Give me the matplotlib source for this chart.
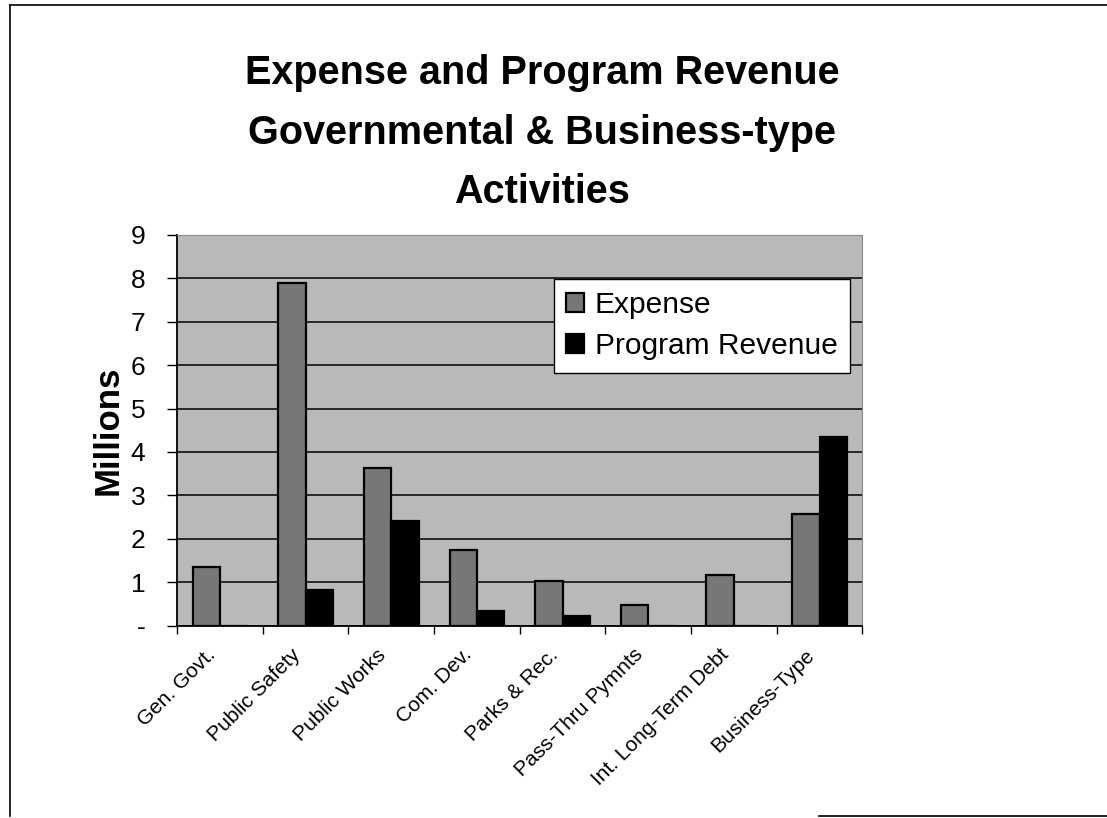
import numpy as np
import matplotlib
matplotlib.use("Agg")
import matplotlib.pyplot as plt
from matplotlib.lines import Line2D

# chart data
categories = ["Gen. Govt.", "Public Safety", "Public Works", "Com. Dev.",
              "Parks & Rec.", "Pass-Thru Pymnts", "Int. Long-Term Debt", "Business-Type"]
expense = [1.35, 7.9, 3.62, 1.74, 1.02, 0.47, 1.18, 2.58]
program_revenue = [0, 0.83, 2.41, 0.35, 0.23, 0, 0, 4.34]
y_ticks = [0, 1, 2, 3, 4, 5, 6, 7, 8, 9]
y_tick_labels = ["-", "1", "2", "3", "4", "5", "6", "7", "8", "9"]

plt.rcParams['font.family'] = ['Liberation Sans', 'DejaVu Sans']

fig = plt.figure(figsize=(11.07, 8.18), dpi=100)
ax = fig.add_axes([0.16, 0.235, 0.619, 0.478])

x = np.arange(len(categories))
w = 0.32
ax.set_facecolor('#b9b9b9')
ax.bar(x - w / 2, expense, w, color='#777777', edgecolor='black', linewidth=1.6,
       label='Expense', zorder=3)
ax.bar(x + w / 2, program_revenue, w, color='black', edgecolor='black', linewidth=1.6,
       label='Program Revenue', zorder=3)

ax.set_xlim(-0.5, len(categories) - 0.5)
ax.set_ylim(0, 9)
ax.set_yticks(y_ticks)
ax.set_yticklabels(y_tick_labels, fontsize=19)
ax.yaxis.grid(True, color='black', linewidth=1.1, zorder=1)
ax.set_axisbelow(True)

# category ticks sit between groups; rotated labels end just left of the centres
ax.set_xticks(np.arange(len(categories) + 1) - 0.5)
ax.set_xticklabels([])
ax.set_xticks(x - 0.17, minor=True)
ax.set_xticklabels(categories, minor=True, rotation=45, ha='right',
                   rotation_mode='anchor', fontsize=15)
ax.tick_params(axis='x', which='minor', length=0, pad=14)
ax.tick_params(axis='x', which='major', direction='out', length=6, width=1)
ax.tick_params(axis='y', direction='out', length=7, width=1, pad=16)

for side in ['left', 'bottom']:
    ax.spines[side].set_linewidth(1.3)
for side in ['top', 'right']:
    ax.spines[side].set_color('#8a8a8a')
    ax.spines[side].set_linewidth(0.8)

ax.set_ylabel('Millions', fontsize=25, fontweight='bold', labelpad=4)

leg = ax.legend(loc='upper right', bbox_to_anchor=(0.982, 0.887), fontsize=21.5,
                frameon=True, fancybox=False, framealpha=1, edgecolor='black',
                handlelength=0.6, handleheight=0.6, handletextpad=0.35,
                borderpad=0.42, labelspacing=0.42, borderaxespad=0)
leg.get_frame().set_linewidth(1.0)

fig.text(0.49, 0.934, 'Expense and Program Revenue\nGovernmental & Business-type\nActivities',
         ha='center', va='top', fontsize=28.5, fontweight='bold', linespacing=1.72)

# page border from the scan
fig.add_artist(Line2D([0.009, 0.009], [0.002, 0.994], color='black', linewidth=1.2))
fig.add_artist(Line2D([0.009, 1.0], [0.994, 0.994], color='black', linewidth=1.2))
fig.add_artist(Line2D([0.74, 1.0], [0.003, 0.003], color='black', linewidth=1.2))

fig.savefig('out.png', dpi=100)
